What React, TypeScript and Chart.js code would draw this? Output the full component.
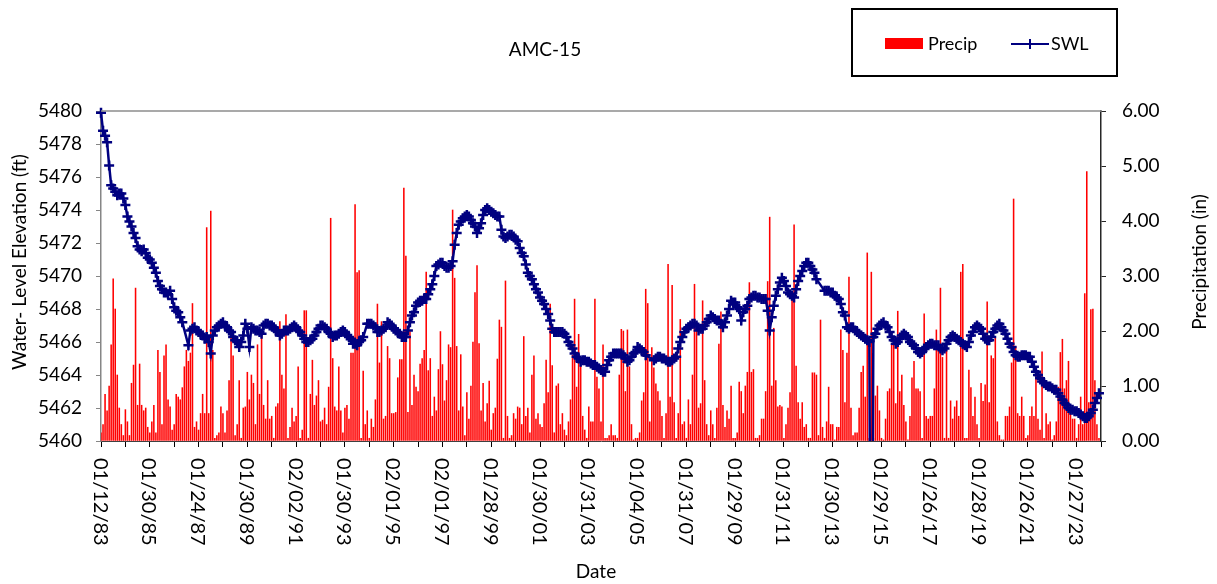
import React, { useEffect, useRef } from 'react';
import { Chart, registerables } from 'chart.js';

Chart.register(...registerables);

const chartTitle = 'AMC-15';
const xAxisTitle = 'Date';
const leftAxisTitle = 'Water- Level Elevation (ft)';
const rightAxisTitle = 'Precipitation (in)';

// Date labels shown every 24 monthly samples
const xTickLabels = [
  '01/12/83', '01/30/85', '01/24/87', '01/30/89', '02/02/91', '01/30/93', '02/01/95',
  '02/01/97', '01/28/99', '01/30/01', '01/31/03', '01/04/05', '01/31/07', '01/29/09',
  '01/31/11', '01/30/13', '01/29/15', '01/26/17', '01/28/19', '01/26/21', '01/27/23',
];

const leftTicks = [5460, 5480, 2];
const rightTicks = [0, 6, 1];

// Monthly precipitation (in), Jan 1983 .. Dec 2023, one row per year
const precipIn = [
  0.15, 0.3, 0.85, 0.55, 1.0, 1.75, 2.95, 2.4, 1.2, 0.6, 0.3, 0.1,
  0.57, 0.35, 0.1, 1.05, 1.38, 2.78, 0.65, 1.4, 0.65, 0.55, 0.6, 0.25,
  0.15, 0.35, 0.65, 0.15, 1.65, 1.25, 0.3, 1.55, 1.75, 0.75, 0.62, 0.2,
  0.3, 0.85, 0.8, 0.75, 0.97, 1.35, 1.65, 1.45, 1.6, 2.5, 0.25, 0.35,
  0.2, 0.5, 0.85, 0.5, 3.88, 0.5, 4.18, 1.65, 0.05, 0.1, 0.15, 0.62,
  0.5, 0.15, 0.55, 1.1, 1.9, 1.55, 0.1, 0.3, 1.1, 0.05, 0.6, 0.62,
  1.25, 0.75, 1.2, 1.05, 0.3, 1.75, 0.85, 1.93, 0.65, 0.4, 1.1, 0.4,
  0.45, 0.05, 0.62, 0.68, 2.17, 1.2, 0.95, 2.3, 0.05, 0.25, 0.6, 0.35,
  0.45, 1.35, 0.05, 0.2, 2.37, 2.37, 0.05, 0.85, 1.47, 0.65, 0.82, 1.1,
  0.35, 0.38, 0.6, 0.3, 0.98, 4.05, 1.5, 0.62, 0.55, 1.35, 0.55, 0.15,
  0.6, 0.65, 0.4, 1.6, 1.6, 4.3, 3.06, 3.1, 0.05, 1.27, 0.3, 0.55,
  0.05, 0.4, 0.25, 0.75, 2.49, 1.42, 2.17, 0.4, 0.45, 1.72, 1.5, 0.5,
  0.5, 0.52, 1.15, 1.48, 1.48, 4.6, 3.36, 0.52, 1.99, 0.65, 1.2, 0.98,
  0.9, 1.4, 1.5, 1.65, 3.07, 1.28, 1.5, 0.45, 0.8, 0.55, 1.3, 1.99,
  1.39, 0.73, 1.1, 1.75, 1.7, 4.2, 2.96, 1.72, 0.55, 1.57, 0.62, 0.1,
  0.88, 0.4, 1.0, 1.8, 2.7, 3.19, 1.77, 0.55, 1.05, 0.35, 0.68, 1.09,
  0.2, 0.5, 0.6, 1.49, 2.2, 2.07, 0.05, 2.91, 0.45, 0.05, 0.1, 0.5,
  0.4, 0.62, 0.6, 0.3, 1.9, 0.45, 0.6, 0.15, 1.2, 1.55, 0.4, 0.5,
  0.3, 0.25, 0.68, 1.47, 0.88, 2.49, 1.37, 0.15, 1.0, 1.04, 0.3, 0.5,
  0.2, 0.1, 0.35, 0.75, 1.56, 2.58, 0.98, 1.94, 1.37, 0.45, 0.2, 0.05,
  0.62, 0.35, 0.35, 2.58, 1.16, 0.95, 0.35, 1.75, 0.05, 0.05, 0.1, 0.3,
  0.1, 0.1, 0.05, 1.2, 2.03, 2.0, 0.9, 2.02, 1.35, 0.3, 0.02, 0.05,
  0.05, 0.15, 0.73, 0.88, 2.76, 2.5, 0.35, 1.7, 1.33, 1.04, 0.9, 0.73,
  0.45, 0.05, 0.5, 3.21, 0.8, 2.83, 0.7, 0.05, 0.5, 2.21, 0.3, 0.35,
  0.05, 0.75, 0.3, 1.2, 2.85, 2.1, 0.6, 0.68, 2.55, 1.1, 0.3, 0.1,
  0.55, 0.3, 0.05, 0.6, 1.76, 2.35, 0.65, 0.25, 0.55, 0.4, 1.0, 0.05,
  0.05, 0.15, 1.07, 0.9, 0.5, 1.0, 1.25, 2.88, 1.25, 1.3, 0.05, 0.05,
  0.1, 0.4, 0.4, 0.9, 2.9, 4.07, 1.0, 2.05, 1.1, 0.62, 0.65, 0.62,
  0.05, 0.3, 0.6, 0.88, 2.7, 3.93, 1.36, 0.7, 0.4, 0.7, 0.25, 0.3,
  0.05, 0.05, 1.24, 1.24, 1.2, 0.1, 2.2, 0.25, 0.05, 0.35, 0.98, 0.3,
  0.3, 0.02, 0.25, 0.25, 2.02, 1.65, 0.7, 1.6, 2.98, 0.6, 0.1, 0.15,
  0.15, 0.6, 1.25, 1.36, 0.8, 3.42, 0.05, 3.07, 0.05, 0.82, 1.0, 0.55,
  0.05, 0.02, 0.4, 0.9, 0.95, 1.76, 1.75, 0.68, 2.36, 0.9, 1.2, 0.65,
  0.35, 0.02, 0.45, 1.15, 1.45, 0.95, 0.95, 0.9, 0.05, 2.31, 0.45, 0.4,
  0.45, 0.45, 0.95, 2.02, 1.75, 2.78, 1.52, 0.05, 1.72, 0.05, 0.73, 0.4,
  0.62, 0.73, 0.45, 3.07, 3.21, 0.05, 0.05, 1.29, 0.97, 0.45, 0.8, 0.3,
  0.05, 1.05, 0.72, 1.02, 2.53, 0.7, 1.55, 1.5, 1.87, 0.35, 0.1, 0.02,
  0.02, 0.45, 0.45, 0.62, 1.42, 4.4, 1.72, 0.5, 0.45, 0.8, 0.45, 0.05,
  0.1, 0.45, 0.62, 0.45, 1.24, 0.4, 0.2, 1.62, 0.05, 0.5, 0.3, 0.35,
  0.02, 0.1, 0.35, 0.98, 1.61, 1.85, 0.95, 1.1, 1.45, 0.62, 0.4, 0.4,
  0.05, 0.3, 0.8, 0.3, 2.68, 4.9, 0.7, 2.39, 2.4, 1.1, 0.3, 0.05,
];

// Monthly static water level (ft), Jan 1983 .. Dec 2023, one row per year
const swlFt: (number | null)[] = [
  5479.9, 5478.8, 5478.5, 5478.1, 5476.7, 5475.5, 5475.3, 5475.1, 5474.9, 5475.0, 5475.0, 5474.7,
  5474.3, 5473.6, 5473.3, 5473.0, 5472.6, 5472.3, 5471.8, 5471.6, 5471.5, 5471.6, 5471.4, 5471.1,
  5471.0, 5470.8, 5470.5, 5470.2, 5469.7, 5469.4, 5469.2, 5469.0, 5469.0, 5468.9, 5469.1, 5468.6,
  5468.1, 5467.9, 5467.8, 5467.5, 5467.2, null, null, 5465.8, 5466.7, 5466.8, 5466.9, 5466.7,
  5466.6, 5466.5, 5466.4, 5466.2, 5466.3, 5466.0, 5465.3, 5466.4, 5466.7, 5466.9, 5467.0, 5467.1,
  5467.2, 5467.0, 5466.9, 5466.7, 5466.6, 5466.3, 5466.1, 5466.0, 5465.7, 5466.0, 5466.4, 5467.1,
  5466.8, 5465.7, 5466.9, 5466.8, 5466.7, 5466.7, 5466.6, 5466.5, 5467.0, 5467.1, 5467.1, 5467.0,
  5467.0, 5466.9, 5466.7, 5466.6, 5466.4, 5466.5, 5466.7, 5466.7, 5466.7, 5466.8, 5466.9, 5467.0,
  5466.9, 5466.7, 5466.6, 5466.4, 5466.2, 5466.0, 5466.0, 5466.1, 5466.2, 5466.4, 5466.6, 5466.8,
  5467.0, 5467.0, 5466.9, 5466.8, 5466.6, 5466.5, 5466.3, 5466.4, 5466.4, 5466.5, 5466.6, 5466.7,
  5466.6, 5466.4, 5466.3, 5466.2, 5465.9, 5465.9, 5465.8, 5466.0, 5466.1, 5466.3, null, 5467.1,
  5467.1, 5467.1, 5467.0, 5466.9, 5466.6, 5466.6, 5466.7, 5466.8, 5466.9, 5467.2, 5467.1, 5467.0,
  5466.8, 5466.7, 5466.6, 5466.5, 5466.3, 5466.3, 5466.3, 5466.7, 5467.2, 5467.6, 5467.8, 5468.2,
  5468.4, 5468.5, 5468.5, 5468.6, 5468.6, 5468.9, 5469.2, 5469.5, 5470.0, 5470.6, 5470.7, 5470.8,
  5470.8, 5470.6, 5470.5, 5470.5, 5470.6, 5470.9, 5471.9, 5472.6, 5473.1, 5473.3, 5473.5, 5473.6,
  5473.7, 5473.6, 5473.4, 5473.2, 5473.0, 5472.6, 5472.9, 5473.2, 5473.7, 5474.0, 5474.1, 5474.0,
  5473.9, 5473.8, 5473.7, 5473.6, 5473.6, 5472.8, 5472.4, 5472.3, 5472.4, 5472.5, 5472.5, 5472.4,
  5472.2, 5472.1, 5471.7, 5471.4, 5471.2, 5470.7, 5470.2, 5470.0, 5469.8, 5469.5, 5469.2, 5469.0,
  5468.7, 5468.5, 5468.3, 5468.0, 5467.7, 5467.3, 5466.8, 5466.6, 5466.6, 5466.6, 5466.6, 5466.6,
  5466.5, 5466.3, 5466.0, 5465.8, 5465.6, 5465.3, 5465.1, 5465.0, 5464.8, 5464.9, 5464.9, 5464.8,
  5464.8, 5464.7, 5464.6, 5464.6, 5464.5, 5464.4, 5464.3, 5464.2, 5464.2, 5464.6, 5464.9, 5465.1,
  5465.3, 5465.3, 5465.3, 5465.3, 5465.3, 5465.2, 5465.0, 5464.8, 5464.9, 5465.1, 5465.3, 5465.4,
  5465.7, 5465.6, 5465.5, 5465.4, 5465.2, null, null, null, 5464.9, 5465.0, 5465.1, 5465.1,
  5465.0, 5465.0, 5464.9, 5464.8, 5464.8, 5464.9, 5465.0, 5465.1, 5465.6, 5466.0, 5466.3, 5466.6,
  5466.8, 5466.9, 5467.0, 5467.1, 5467.1, 5467.0, 5466.7, 5466.8, 5466.8, 5467.0, 5467.2, 5467.4,
  5467.6, 5467.5, 5467.4, 5467.3, 5467.3, 5467.1, 5466.9, 5467.2, 5467.6, 5468.0, 5468.5, 5468.4,
  5468.4, 5468.1, 5468.0, 5467.3, 5467.8, 5468.0, 5468.2, 5468.6, 5468.7, 5468.8, 5468.8, 5468.7,
  5468.7, 5468.6, 5468.6, 5468.6, 5467.9, 5466.7, 5467.5, 5468.2, 5468.8, 5469.2, 5469.6, 5469.9,
  5469.7, 5469.4, 5469.0, 5468.9, 5468.8, 5468.7, 5469.2, 5469.7, 5470.0, 5470.3, 5470.6, 5470.8,
  5470.8, 5470.6, 5470.4, 5470.2, 5469.8, null, null, null, 5469.1, 5469.1, 5469.1, 5469.0,
  5469.0, 5468.8, 5468.7, 5468.6, 5468.3, 5467.8, 5467.6, 5466.9, 5466.8, 5466.9, 5466.9, 5466.7,
  5466.6, 5466.5, 5466.4, 5466.3, 5466.2, 5466.1, 5466.0, 5440.0, 5466.3, 5466.5, 5466.8, 5467.0,
  5467.1, 5467.2, 5467.0, 5466.9, 5466.6, 5466.3, 5466.1, 5465.9, 5466.0, 5466.2, 5466.4, 5466.5,
  5466.4, 5466.3, 5466.0, 5465.9, 5465.8, 5465.6, 5465.4, 5465.3, 5465.4, 5465.6, 5465.7, 5465.8,
  5465.9, 5465.9, 5465.8, 5465.8, 5465.8, 5465.6, 5465.5, 5465.6, 5465.9, 5466.1, 5466.3, 5466.4,
  5466.3, 5466.2, 5466.1, 5466.0, 5465.9, 5465.8, 5465.7, 5466.0, 5466.4, 5466.6, 5466.9, 5467.0,
  5466.9, 5466.8, 5466.5, 5466.2, 5466.1, 5466.1, 5466.3, 5466.6, 5466.8, 5467.0, 5467.1, 5466.9,
  5466.7, 5466.5, 5466.2, 5465.9, 5465.7, 5465.4, 5465.2, 5465.1, 5465.1, 5465.2, 5465.2, 5465.2,
  5465.1, 5465.1, 5464.8, 5464.5, 5464.2, 5464.0, 5463.8, 5463.6, 5463.5, 5463.4, 5463.3, 5463.3,
  5463.2, 5463.1, 5463.1, 5462.9, 5462.7, 5462.5, 5462.3, 5462.2, 5462.0, 5461.9, 5461.9, 5461.8,
  5461.8, 5461.7, 5461.6, 5461.5, 5461.4, 5461.4, 5461.5, 5461.7, 5461.9, 5462.3, 5462.6, 5462.9,
];

const W = 1217;
const H = 584;
const FONT = 'Lato, "Open Sans", sans-serif';

export default function App() {
  const ref = useRef<HTMLCanvasElement>(null);

  useEffect(() => {
    const canvas = ref.current;
    if (!canvas) return;

    const overlay = {
      id: 'overlay',
      afterDraw(chart: any) {
        const { ctx, chartArea: a, scales } = chart;
        ctx.save();
        // plot area top border
        ctx.strokeStyle = '#8c8c8c';
        ctx.lineWidth = 1.5;
        ctx.beginPath();
        ctx.moveTo(a.left, a.top);
        ctx.lineTo(a.right, a.top);
        ctx.stroke();

        ctx.fillStyle = '#000';
        // x tick labels (rotated clockwise, read top to bottom)
        ctx.font = `20px ${FONT}`;
        ctx.textAlign = 'left';
        ctx.textBaseline = 'middle';
        xTickLabels.forEach((lbl, i) => {
          const x = scales.x.getPixelForValue(i * 24);
          ctx.save();
          ctx.translate(x - 1, a.bottom + 17);
          ctx.rotate(Math.PI / 2);
          ctx.fillText(lbl, 0, 0);
          ctx.restore();
        });

        ctx.font = `19px ${FONT}`;
        ctx.textAlign = 'center';
        ctx.textBaseline = 'middle';
        ctx.fillText(xAxisTitle, 596, 572);
        ctx.fillText(chartTitle, 545, 50);

        ctx.save();
        ctx.translate(20, 262);
        ctx.rotate(-Math.PI / 2);
        ctx.fillText(leftAxisTitle, 0, 0);
        ctx.restore();

        ctx.save();
        ctx.translate(1200, 262);
        ctx.rotate(-Math.PI / 2);
        ctx.fillText(rightAxisTitle, 0, 0);
        ctx.restore();

        // legend
        ctx.strokeStyle = '#000';
        ctx.lineWidth = 2;
        ctx.strokeRect(852, 9, 265, 67);
        ctx.fillStyle = '#ff0000';
        ctx.fillRect(885, 38, 38, 11);
        ctx.fillStyle = '#000';
        ctx.font = `18px ${FONT}`;
        ctx.textAlign = 'left';
        ctx.fillText('Precip', 928, 44);
        ctx.strokeStyle = '#000080';
        ctx.lineWidth = 2;
        ctx.beginPath();
        ctx.moveTo(1011, 44);
        ctx.lineTo(1049, 44);
        ctx.moveTo(1030, 39);
        ctx.lineTo(1030, 49);
        ctx.stroke();
        ctx.fillText('SWL', 1051, 44);
        ctx.restore();
      },
    };

    const chart = new Chart(canvas, {
      type: 'bar',
      data: {
        datasets: [
          {
            type: 'line',
            label: 'SWL',
            data: swlFt.map((v, i) => ({ x: i, y: v })),
            yAxisID: 'y',
            borderColor: '#000080',
            backgroundColor: '#000080',
            borderWidth: 2.5,
            pointStyle: 'cross',
            pointRadius: 5,
            pointBorderWidth: 2.5,
            pointBorderColor: '#000080',
            tension: 0,
            spanGaps: true,
            order: 0,
            clip: { left: 6, right: 6, top: 6, bottom: 0 },
          } as any,
          {
            type: 'bar',
            label: 'Precip',
            data: precipIn.map((v, i) => ({ x: i, y: v })),
            yAxisID: 'y1',
            backgroundColor: '#ff0000',
            barThickness: 0.9,
            order: 1,
          } as any,
        ],
      },
      options: {
        responsive: false,
        animation: false,
        events: [],
        layout: { padding: { top: 111, left: 0, right: 0, bottom: 0 } },
        plugins: {
          legend: { display: false },
          title: { display: false },
          tooltip: { enabled: false },
        },
        scales: {
          x: {
            type: 'linear',
            position: 'bottom',
            min: 0,
            max: 492,
            offset: false,
            ticks: {
              stepSize: 12,
              autoSkip: false,
              includeBounds: false,
              maxRotation: 0,
              callback: () => '',
            } as any,
            grid: { drawOnChartArea: false, drawTicks: true, tickLength: 6, color: '#000', offset: false },
            border: { display: true, color: '#404040', width: 1 },
            afterFit: (s: any) => { s.height = H - 441; },
          },
          y: {
            type: 'linear',
            position: 'left',
            min: leftTicks[0],
            max: leftTicks[1],
            ticks: {
              stepSize: leftTicks[2],
              color: '#000',
              padding: 14,
              font: { size: 19, family: FONT },
              callback: (v: any) => String(Math.round(Number(v))),
            },
            grid: { drawOnChartArea: false, tickLength: 5, color: '#868686' },
            border: { display: true, color: '#868686', width: 1.5 },
            afterFit: (s: any) => { s.width = 101; },
          },
          y1: {
            type: 'linear',
            position: 'right',
            min: rightTicks[0],
            max: rightTicks[1],
            ticks: {
              stepSize: rightTicks[2],
              color: '#000',
              padding: 16,
              font: { size: 19, family: FONT },
              callback: (v: any) => Number(v).toFixed(2),
            },
            grid: { drawOnChartArea: false, tickLength: 5, color: '#262626' },
            border: { display: true, color: '#262626', width: 1.5 },
            afterFit: (s: any) => { s.width = W - 1101; },
          },
        },
      } as any,
      plugins: [overlay],
    });

    return () => chart.destroy();
  }, []);

  return (
    <div style={{ position: 'fixed', left: 0, top: 0, width: W, height: H, background: '#fff' }}>
      <canvas ref={ref} width={W} height={H} style={{ display: 'block', width: W, height: H }} />
    </div>
  );
}
